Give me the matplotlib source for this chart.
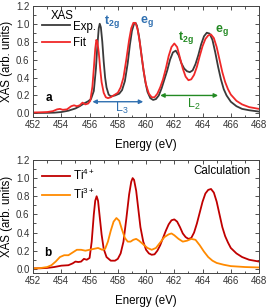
import matplotlib
matplotlib.use("Agg")
import matplotlib.pyplot as plt
from matplotlib.ticker import MultipleLocator

# ─── panel a: experiment vs fit ──────────────────────────────────────────
exp_e = [452.0, 452.5, 453.0, 453.5, 454.0, 454.5, 455.0, 455.3, 455.6, 455.9,
         456.1, 456.3, 456.45, 456.55, 456.65, 456.72, 456.8, 456.9, 457.0, 457.1,
         457.2, 457.35, 457.5, 457.8, 458.1, 458.3, 458.5, 458.7, 458.85, 459.0,
         459.15, 459.25, 459.35, 459.5, 459.65, 459.8, 459.95, 460.1, 460.3, 460.5,
         460.7, 460.9, 461.1, 461.3, 461.5, 461.7, 461.9, 462.1, 462.3, 462.5,
         462.7, 462.9, 463.1, 463.3, 463.5, 463.7, 463.9, 464.1, 464.3, 464.5,
         464.7, 464.9, 465.1, 465.3, 465.5, 465.7, 466.0, 466.4, 466.8, 467.3, 468.0]
exp_v = [0.005, 0.005, 0.006, 0.008, 0.015, 0.03, 0.055, 0.08, 0.11, 0.135,
         0.16, 0.25, 0.5, 0.75, 0.95, 1.0, 0.96, 0.8, 0.58, 0.4,
         0.29, 0.21, 0.19, 0.2, 0.22, 0.26, 0.36, 0.56, 0.76, 0.92,
         1.0, 1.01, 0.98, 0.86, 0.68, 0.5, 0.35, 0.24, 0.17, 0.15,
         0.16, 0.2, 0.28, 0.38, 0.48, 0.6, 0.68, 0.70, 0.65, 0.56,
         0.5, 0.47, 0.46, 0.48, 0.55, 0.65, 0.77, 0.86, 0.9, 0.89,
         0.82, 0.68, 0.52, 0.38, 0.27, 0.2, 0.13, 0.08, 0.05, 0.035, 0.02]

fit_e = [452.0, 452.5, 453.0, 453.4, 453.7, 453.9, 454.1, 454.4, 454.7, 454.9,
         455.1, 455.3, 455.5, 455.7, 455.9, 456.05, 456.2, 456.3, 456.4, 456.48,
         456.55, 456.65, 456.75, 456.85, 457.0, 457.15, 457.3, 457.5, 457.8, 458.0,
         458.2, 458.4, 458.6, 458.8, 458.95, 459.1, 459.25, 459.4, 459.55, 459.7,
         459.85, 460.0, 460.2, 460.4, 460.6, 460.8, 461.0, 461.2, 461.4, 461.6,
         461.8, 462.0, 462.2, 462.4, 462.6, 462.8, 463.0, 463.2, 463.4, 463.6,
         463.8, 464.0, 464.2, 464.4, 464.6, 464.8, 465.0, 465.2, 465.4, 465.6,
         465.8, 466.0, 466.4, 466.8, 467.3, 468.0]
fit_v = [0.01, 0.012, 0.015, 0.025, 0.045, 0.05, 0.04, 0.045, 0.08, 0.09,
         0.08, 0.09, 0.12, 0.1, 0.11, 0.14, 0.3, 0.5, 0.72, 0.82,
         0.8, 0.68, 0.5, 0.35, 0.23, 0.18, 0.17, 0.18, 0.21, 0.23,
         0.29, 0.4, 0.6, 0.82, 0.95, 1.01, 1.01, 0.94, 0.8, 0.62,
         0.45, 0.32, 0.22, 0.18, 0.18, 0.22, 0.29, 0.38, 0.5, 0.64,
         0.74, 0.78, 0.74, 0.62, 0.5, 0.41, 0.37, 0.38, 0.43, 0.52,
         0.64, 0.75, 0.83, 0.87, 0.88, 0.84, 0.74, 0.6, 0.46, 0.35,
         0.27, 0.21, 0.14, 0.1, 0.07, 0.05]

# ─── panel b: calculation ─────────────────────────────────────────────────
ti4_e = [452.0, 452.5, 453.0, 453.5, 454.0, 454.5, 454.8, 455.0, 455.2, 455.4,
         455.6, 455.8, 456.0, 456.15, 456.3, 456.4, 456.5, 456.6, 456.7, 456.85,
         457.0, 457.2, 457.5, 457.8, 458.0, 458.2, 458.4, 458.6, 458.8, 458.95,
         459.05, 459.15, 459.3, 459.45, 459.6, 459.8, 460.0, 460.2, 460.4, 460.6,
         460.8, 461.0, 461.2, 461.4, 461.6, 461.8, 462.0, 462.2, 462.4, 462.6,
         462.8, 463.0, 463.2, 463.4, 463.6, 463.8, 464.0, 464.2, 464.4, 464.6,
         464.8, 465.0, 465.2, 465.4, 465.6, 465.8, 466.0, 466.4, 466.8, 467.3, 468.0]
ti4_v = [0.005, 0.006, 0.01, 0.02, 0.035, 0.04, 0.06, 0.08, 0.075, 0.08,
         0.11, 0.1, 0.12, 0.3, 0.6, 0.75, 0.8, 0.75, 0.6, 0.38,
         0.22, 0.13, 0.09, 0.09, 0.11, 0.17, 0.3, 0.55, 0.82, 0.96,
         1.0, 0.98, 0.86, 0.66, 0.46, 0.3, 0.21, 0.17, 0.155, 0.16,
         0.2, 0.26, 0.34, 0.42, 0.49, 0.535, 0.545, 0.52, 0.46, 0.39,
         0.35, 0.33, 0.34, 0.4, 0.5, 0.62, 0.74, 0.83, 0.87, 0.88,
         0.84, 0.74, 0.6, 0.46, 0.36, 0.29, 0.23, 0.17, 0.13, 0.1, 0.08]

ti3_e = [452.0, 452.5, 453.0, 453.3, 453.6, 453.9, 454.2, 454.5, 454.8, 455.1,
         455.4, 455.7, 456.0, 456.3, 456.6, 456.9, 457.1, 457.3, 457.5, 457.7,
         457.9, 458.1, 458.3, 458.5, 458.7, 458.9, 459.1, 459.3, 459.5, 459.8,
         460.1, 460.4, 460.7, 461.0, 461.3, 461.6, 461.8, 462.0, 462.3, 462.6,
         462.9, 463.2, 463.5, 463.8, 464.1, 464.4, 464.7, 465.0, 465.5, 466.0,
         467.0, 468.0]
ti3_v = [0.005, 0.008, 0.02, 0.04, 0.08, 0.13, 0.15, 0.15, 0.18, 0.21,
         0.21, 0.2, 0.21, 0.22, 0.23, 0.21, 0.22, 0.3, 0.42, 0.52,
         0.56, 0.53, 0.43, 0.34, 0.3, 0.3, 0.32, 0.33, 0.31, 0.27,
         0.23, 0.21, 0.23, 0.29, 0.35, 0.38, 0.39, 0.37, 0.33, 0.3,
         0.31, 0.33, 0.32, 0.26, 0.19, 0.13, 0.09, 0.065, 0.045, 0.03,
         0.02, 0.015]

BLUE = "#2f6fb0"
GREEN = "#238a23"
FS = 8.3

plt.rcParams["font.family"] = ["Liberation Sans", "DejaVu Sans"]
plt.rcParams["mathtext.fontset"] = "custom"
plt.rcParams["mathtext.rm"] = "Liberation Sans"
plt.rcParams["mathtext.it"] = "Liberation Sans:italic"
plt.rcParams["mathtext.bf"] = "Liberation Sans:bold"


def style_axes(ax):
    ax.set_xlim(452, 468)
    ax.xaxis.set_major_locator(MultipleLocator(2))
    ax.xaxis.set_minor_locator(MultipleLocator(1))
    ax.yaxis.set_major_locator(MultipleLocator(0.2))
    ax.yaxis.set_minor_locator(MultipleLocator(0.1))
    ax.tick_params(which="both", direction="in", top=True, right=True,
                   labelsize=7, colors="#333333", width=0.6)
    ax.tick_params(which="major", length=3, pad=2.5)
    ax.tick_params(which="minor", length=1.8)
    for s in ax.spines.values():
        s.set_linewidth(0.7)
        s.set_color("#444444")
    ax.set_xlabel("Energy (eV)", fontsize=FS, labelpad=6)
    ax.set_ylabel("XAS (arb. units)", fontsize=FS, labelpad=2)


fig = plt.figure(figsize=(2.69, 3.07), dpi=100)
ax1 = fig.add_axes([0.123, 0.619, 0.840, 0.362])
ax2 = fig.add_axes([0.123, 0.111, 0.840, 0.368])

# panel a
ax1.plot(exp_e, exp_v, color="#3a3a3a", lw=1.3, label="Exp.")
ax1.plot(fit_e, fit_v, color="#f02828", lw=1.3, label="Fit")
ax1.set_ylim(-0.04, 1.2)
style_axes(ax1)
ax1.legend(loc="upper left", bbox_to_anchor=(0.01, 0.93), frameon=False,
           fontsize=FS, handlelength=2.4, handletextpad=0.25,
           labelspacing=0.35, borderaxespad=0.2)
ax1.text(453.25, 1.09, "XAS", fontsize=FS, va="center")
ax1.text(452.9, 0.17, "a", fontsize=8.5, fontweight="bold", va="center")

ax1.text(457.05, 1.03, r"t$_{\mathbf{2g}}$", color=BLUE, fontsize=9,
         fontweight="bold", va="center")
ax1.text(459.6, 1.02, r"e$_{\mathbf{g}}$", color=BLUE, fontsize=9,
         fontweight="bold", va="center")
ax1.text(462.25, 0.85, r"t$_{\mathbf{2g}}$", color=GREEN, fontsize=9,
         fontweight="bold", va="center")
ax1.text(464.85, 0.92, r"e$_{\mathbf{g}}$", color=GREEN, fontsize=9,
         fontweight="bold", va="center")

ax1.annotate("", xy=(456.2, 0.13), xytext=(459.8, 0.13),
             arrowprops=dict(arrowstyle="<|-|>", color=BLUE, lw=1.0,
                             mutation_scale=6, shrinkA=0, shrinkB=0))
ax1.text(458.3, 0.05, r"L$_3$", color=BLUE, fontsize=9, ha="center",
         va="center")
ax1.annotate("", xy=(461.0, 0.2), xytext=(465.1, 0.2),
             arrowprops=dict(arrowstyle="<|-|>", color=GREEN, lw=1.0,
                             mutation_scale=6, shrinkA=0, shrinkB=0))
ax1.text(463.4, 0.1, r"L$_2$", color=GREEN, fontsize=9, ha="center",
         va="center")

# panel b
ax2.plot(ti4_e, ti4_v, color="#c00000", lw=1.3, label=r"Ti$^{4+}$")
ax2.plot(ti3_e, ti3_v, color="#ff8a00", lw=1.3, label=r"Ti$^{3+}$")
ax2.set_ylim(-0.045, 1.2)
style_axes(ax2)
ax2.legend(loc="upper left", bbox_to_anchor=(0.01, 0.99), frameon=False,
           fontsize=FS, handlelength=2.4, handletextpad=0.25,
           labelspacing=0.35, borderaxespad=0.2)
ax2.text(452.8, 0.18, "b", fontsize=8.5, fontweight="bold", va="center")
ax2.text(467.4, 1.08, "Calculation", fontsize=FS, ha="right", va="center")

fig.savefig("out.png", dpi=100)
